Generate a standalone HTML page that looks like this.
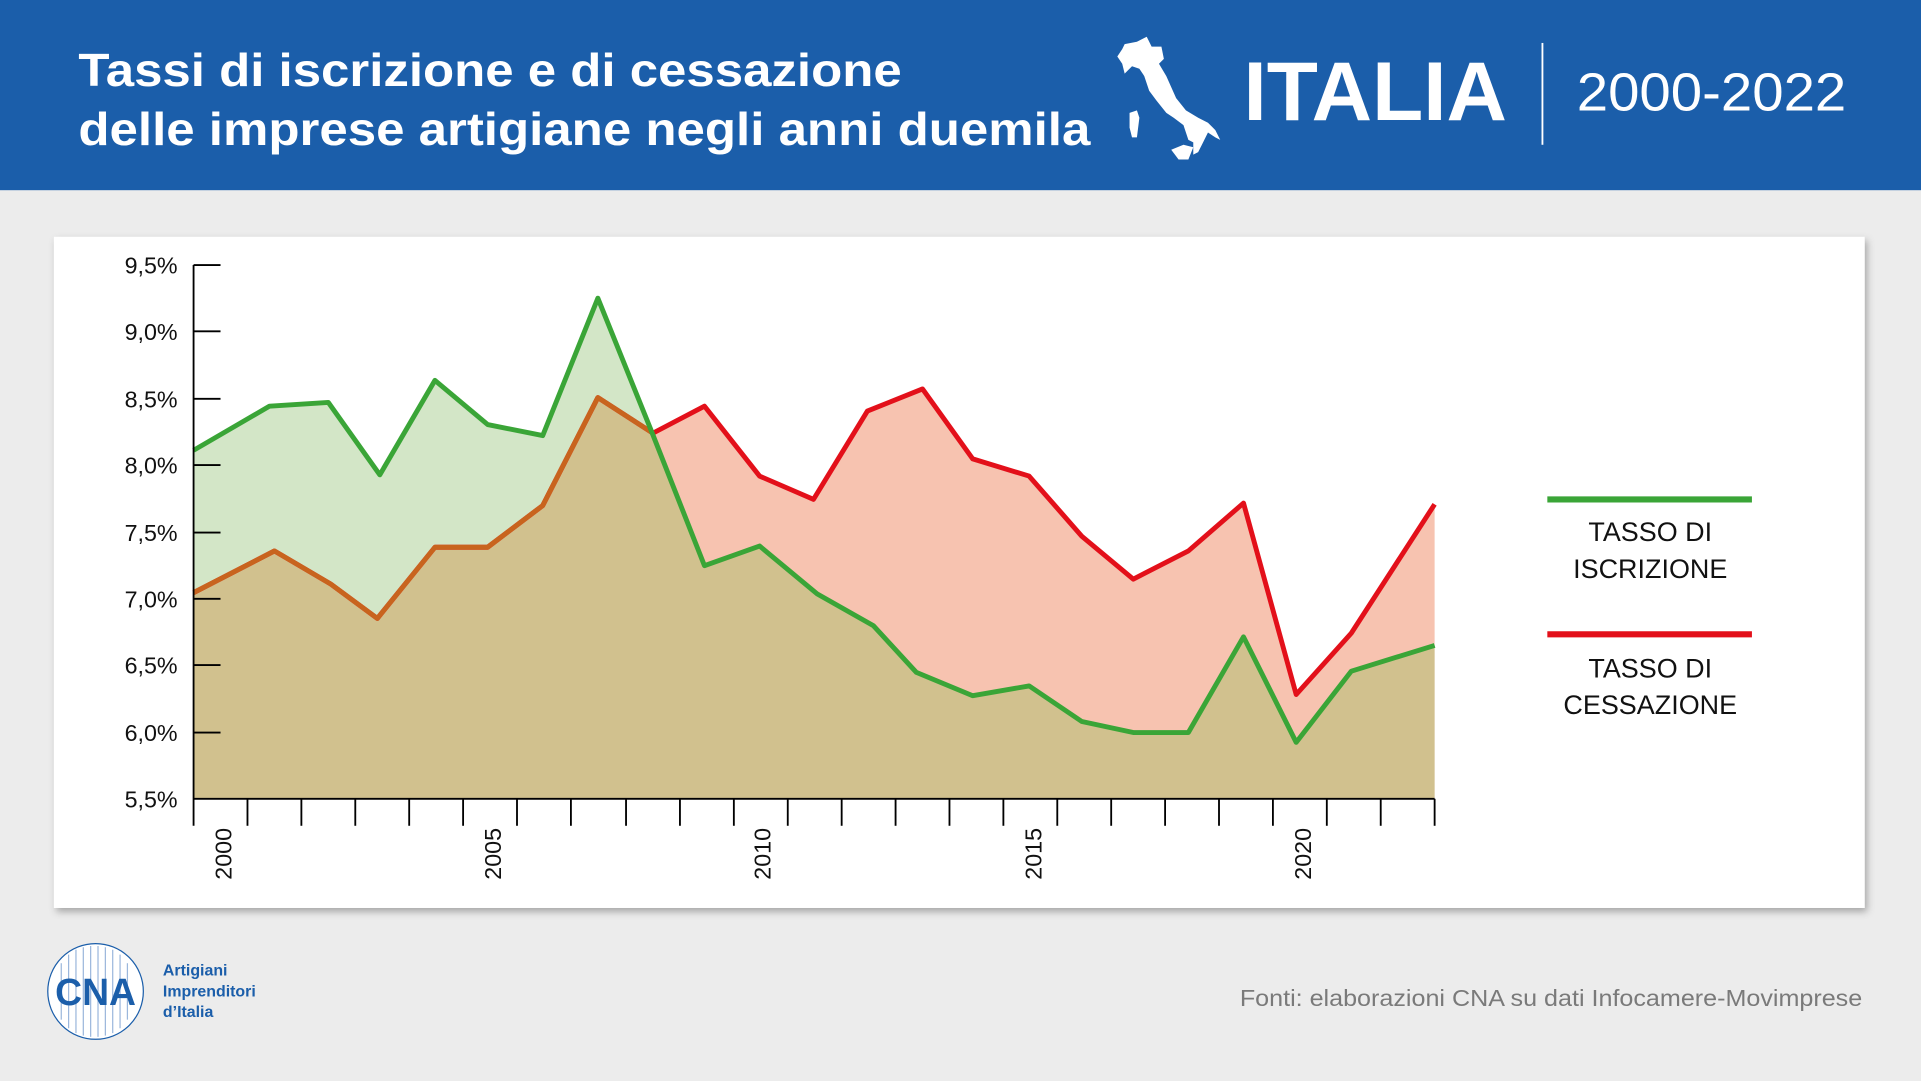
<!DOCTYPE html>
<html><head><meta charset="utf-8"><style>
html,body{margin:0;padding:0;background:#ececec;}
svg{display:block;}
text{font-family:"Liberation Sans",sans-serif;}
</style></head><body>
<svg width="1921" height="1081" viewBox="0 0 1568 881" preserveAspectRatio="none" xmlns="http://www.w3.org/2000/svg">
<defs>
<filter id="sh" x="-5%" y="-5%" width="110%" height="115%"><feDropShadow dx="2" dy="3" stdDeviation="3" flood-color="#000" flood-opacity="0.3"/></filter>
<clipPath id="gclip"><polygon points="158,651 158,367 220,331 268,328 310,387 355,310 398,346 443,355 488,243 532,352 575,461 620,445 667,484 713,510 748,548 794,567 840,559 883,588 925,597 970,597 1015,519 1058,605 1103,547 1171,526 1171,651"/></clipPath>
</defs>
<rect x="0" y="0" width="1568" height="881" fill="#ececec"/>
<rect x="0" y="0" width="1568" height="155" fill="#1b5eaa"/>
<text x="64" y="70" font-size="38" font-weight="bold" fill="#fff" textLength="672" lengthAdjust="spacingAndGlyphs">Tassi di iscrizione e di cessazione</text>
<text x="64" y="118" font-size="38" font-weight="bold" fill="#fff" textLength="826" lengthAdjust="spacingAndGlyphs">delle imprese artigiane negli anni duemila</text>
<polygon fill="#fff" points="918,36 928,34 936,30 940,38 948,38 950,48 946,52 952,62 960,80 968,90 978,96 986,100 992,106 996,114 992,112 986,108 982,116 978,124 974,126 974,116 970,114 966,102 958,96 952,92 944,82 938,74 934,62 930,56 924,54 918,60 916,52 912,46 916,40"/>
<polygon fill="#fff" points="922,92 928,90 930,96 928,112 924,112 922,104"/>
<polygon fill="#fff" points="956,122 966,118 974,120 970,130 962,130"/>
<text x="1015" y="98" font-size="68" font-weight="bold" fill="#fff" textLength="215" lengthAdjust="spacingAndGlyphs">ITALIA</text>
<line x1="1259" y1="35" x2="1259" y2="118" stroke="#fff" stroke-width="1.5"/>
<text x="1287" y="90" font-size="44" fill="#fff" textLength="220" lengthAdjust="spacingAndGlyphs">2000-2022</text>

<rect x="44" y="193" width="1478" height="547" fill="#fff" filter="url(#sh)"/>

<polygon fill="#d3e6c7" points="158,651 158,367 220,331 268,328 310,387 355,310 398,346 443,355 488,243 532,352 575,461 620,445 667,484 713,510 748,548 794,567 840,559 883,588 925,597 970,597 1015,519 1058,605 1103,547 1171,526 1171,651"/>
<polygon fill="#f7c3b0" points="158,651 158,483 224,449 270,476 308,504 355,446 398,446 443,412 488,324 533,353 575,331 620,388 664,407 708,335 753,317 794,374 840,388 883,437 925,472 970,449 1015,410 1058,566 1103,516 1171,411 1171,651"/>
<polygon clip-path="url(#gclip)" fill="#d1c18e" points="158,651 158,483 224,449 270,476 308,504 355,446 398,446 443,412 488,324 533,353 575,331 620,388 664,407 708,335 753,317 794,374 840,388 883,437 925,472 970,449 1015,410 1058,566 1103,516 1171,411 1171,651"/>
<polyline fill="none" stroke="#e3101a" stroke-width="4" stroke-linejoin="round" points="158,483 224,449 270,476 308,504 355,446 398,446 443,412 488,324 533,353 575,331 620,388 664,407 708,335 753,317 794,374 840,388 883,437 925,472 970,449 1015,410 1058,566 1103,516 1171,411"/>
<polyline clip-path="url(#gclip)" fill="none" stroke="#c8641e" stroke-width="4" stroke-linejoin="round" points="158,483 224,449 270,476 308,504 355,446 398,446 443,412 488,324 533,353 575,331 620,388 664,407 708,335 753,317 794,374 840,388 883,437 925,472 970,449 1015,410 1058,566 1103,516 1171,411"/>
<polyline fill="none" stroke="#3aa537" stroke-width="4" stroke-linejoin="round" points="158,367 220,331 268,328 310,387 355,310 398,346 443,355 488,243 532,352 575,461 620,445 667,484 713,510 748,548 794,567 840,559 883,588 925,597 970,597 1015,519 1058,605 1103,547 1171,526"/>

<g stroke="#000" stroke-width="1.5">
<line x1="158" y1="216" x2="158" y2="673"/>
<line x1="158" y1="651" x2="1171" y2="651"/>
<line x1="158" y1="216" x2="180" y2="216"/><line x1="158" y1="270" x2="180" y2="270"/><line x1="158" y1="325" x2="180" y2="325"/><line x1="158" y1="379" x2="180" y2="379"/><line x1="158" y1="434" x2="180" y2="434"/><line x1="158" y1="488" x2="180" y2="488"/><line x1="158" y1="542" x2="180" y2="542"/><line x1="158" y1="597" x2="180" y2="597"/>
<line x1="202" y1="651" x2="202" y2="673"/><line x1="246" y1="651" x2="246" y2="673"/><line x1="290" y1="651" x2="290" y2="673"/><line x1="334" y1="651" x2="334" y2="673"/><line x1="378" y1="651" x2="378" y2="673"/><line x1="422" y1="651" x2="422" y2="673"/><line x1="466" y1="651" x2="466" y2="673"/><line x1="511" y1="651" x2="511" y2="673"/><line x1="555" y1="651" x2="555" y2="673"/><line x1="599" y1="651" x2="599" y2="673"/><line x1="643" y1="651" x2="643" y2="673"/><line x1="687" y1="651" x2="687" y2="673"/><line x1="731" y1="651" x2="731" y2="673"/><line x1="775" y1="651" x2="775" y2="673"/><line x1="819" y1="651" x2="819" y2="673"/><line x1="863" y1="651" x2="863" y2="673"/><line x1="907" y1="651" x2="907" y2="673"/><line x1="951" y1="651" x2="951" y2="673"/><line x1="995" y1="651" x2="995" y2="673"/><line x1="1039" y1="651" x2="1039" y2="673"/><line x1="1083" y1="651" x2="1083" y2="673"/><line x1="1127" y1="651" x2="1127" y2="673"/><line x1="1171" y1="651" x2="1171" y2="673"/>
</g>
<g font-size="19" fill="#111" text-anchor="end">
<text x="145" y="223">9,5%</text><text x="145" y="277">9,0%</text><text x="145" y="332">8,5%</text><text x="145" y="386">8,0%</text><text x="145" y="441">7,5%</text><text x="145" y="495">7,0%</text><text x="145" y="549">6,5%</text><text x="145" y="604">6,0%</text><text x="145" y="658">5,5%</text>
</g>
<g font-size="19" fill="#111">
<text transform="translate(189,717) rotate(-90)">2000</text>
<text transform="translate(409,717) rotate(-90)">2005</text>
<text transform="translate(629,717) rotate(-90)">2010</text>
<text transform="translate(850,717) rotate(-90)">2015</text>
<text transform="translate(1070,717) rotate(-90)">2020</text>
</g>
<line x1="1263" y1="407" x2="1430" y2="407" stroke="#3aa537" stroke-width="5"/>
<line x1="1263" y1="517" x2="1430" y2="517" stroke="#e3101a" stroke-width="5"/>
<g font-size="22" fill="#111" text-anchor="middle">
<text x="1347" y="441">TASSO DI</text><text x="1347" y="471">ISCRIZIONE</text>
<text x="1347" y="552">TASSO DI</text><text x="1347" y="582">CESSAZIONE</text>
</g>
<text x="1520" y="820" font-size="19" fill="#7a7a7a" text-anchor="end" textLength="508" lengthAdjust="spacingAndGlyphs">Fonti: elaborazioni CNA su dati Infocamere-Movimprese</text>
<circle cx="78" cy="808" r="39" fill="#fff" stroke="#1b5eaa" stroke-width="1"/>
<g stroke="#9bb7dc" stroke-width="1">
<line x1="50" y1="785" x2="50" y2="831"/><line x1="56" y1="778" x2="56" y2="838"/><line x1="62" y1="774" x2="62" y2="842"/><line x1="68" y1="772" x2="68" y2="844"/><line x1="74" y1="771" x2="74" y2="845"/><line x1="80" y1="771" x2="80" y2="845"/><line x1="86" y1="772" x2="86" y2="844"/><line x1="92" y1="774" x2="92" y2="842"/><line x1="98" y1="778" x2="98" y2="838"/><line x1="104" y1="785" x2="104" y2="831"/>
</g>
<text x="78" y="819" font-size="31" font-weight="bold" fill="#1b5eaa" text-anchor="middle" textLength="66" lengthAdjust="spacingAndGlyphs">CNA</text>
<g font-size="13" font-weight="bold" fill="#1b5eaa">
<text x="133" y="795">Artigiani</text><text x="133" y="812">Imprenditori</text><text x="133" y="829">d’Italia</text>
</g>
</svg>
</body></html>
